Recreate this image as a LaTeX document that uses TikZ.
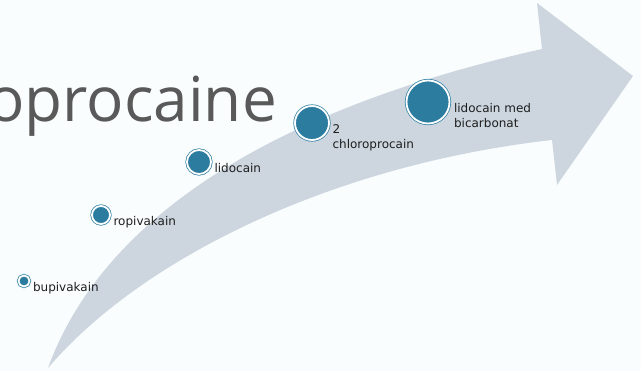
\documentclass[tikz,border=0pt]{standalone}
\usepackage{fontspec}
\setmainfont{DejaVu Sans}
\newfontfamily\titlefont{Open Sans}
\usepackage{xcolor}
\usepackage{tikz}
\definecolor{dotblue}{HTML}{2C7CA0}
\definecolor{bandgrey}{HTML}{CDD6DF}
\definecolor{paper}{HTML}{F9FDFE}
\definecolor{titlegrey}{HTML}{595959}
\definecolor{labelgrey}{HTML}{1E1E1E}

\begin{document}
\begin{tikzpicture}[x=1pt, y=-1pt,
  dot/.style={circle, fill=dotblue, draw=dotblue, line width=0.7pt, double=white, double distance=1.8pt, inner sep=0pt},
  lbl/.style={anchor=north west, inner sep=1pt, align=left, text=labelgrey, font=\fontsize{12}{15}\selectfont}]
\useasboundingbox (0,0) rectangle (641,371);
\fill[paper] (0,0) rectangle (641,371);
% curved arrow
\fill[bandgrey] (48,368) .. controls (100,225) and (260,112) .. (542,49) -- (537,3) -- (633,76) -- (557,185) -- (552,140) .. controls (330,165) and (140,260) .. (48,368) -- cycle;
% title
\node[anchor=base east, inner sep=0pt, text=titlegrey, font=\titlefont\fontsize{62}{62}\selectfont] (title) at (277,122) {oprocaine};
% dots
\node[dot, minimum size=11pt] (bupi) at (24,281) {};
\node[dot, minimum size=18pt] (ropi) at (101,215) {};
\node[dot, minimum size=24pt] (lido) at (199,162) {};
\node[dot, minimum size=34pt] (chloro) at (312,123) {};
\node[dot, minimum size=43pt] (lidobic) at (428,102) {};
% labels
\node[lbl] (bupilbl) at ([xshift=2pt]bupi.east) {bupivakain};
\node[lbl] (ropilbl) at ([xshift=2pt]ropi.east) {ropivakain};
\node[lbl] (lidolbl) at ([xshift=2pt]lido.east) {lidocain};
\node[lbl] (chlorolbl) at ([xshift=2pt]chloro.east) {2\\chloroprocain};
\node[lbl] (lidobiclbl) at ([xshift=3pt]lidobic.east) {lidocain med\\bicarbonat};
\end{tikzpicture}
\end{document}
